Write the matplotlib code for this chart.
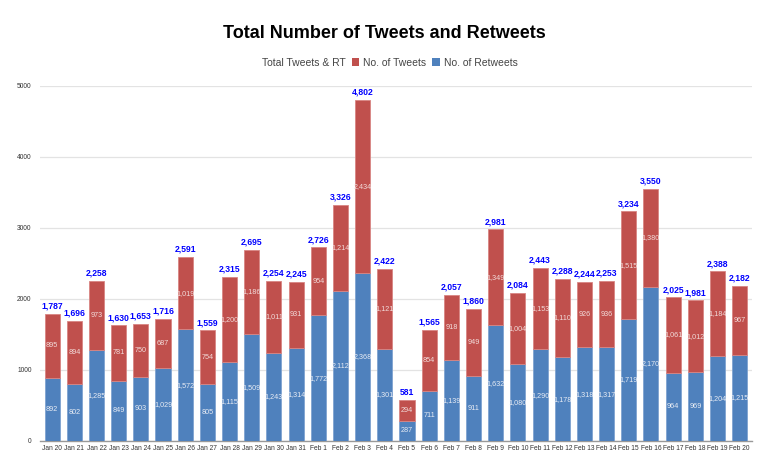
import numpy as np
import matplotlib.pyplot as plt
from matplotlib.patches import Patch

plt.rcParams['font.family'] = ['Liberation Sans', 'DejaVu Sans']

# data
dates = ['Jan 20', 'Jan 21', 'Jan 22', 'Jan 23', 'Jan 24', 'Jan 25', 'Jan 26', 'Jan 27',
         'Jan 28', 'Jan 29', 'Jan 30', 'Jan 31', 'Feb 1', 'Feb 2', 'Feb 3', 'Feb 4',
         'Feb 5', 'Feb 6', 'Feb 7', 'Feb 8', 'Feb 9', 'Feb 10', 'Feb 11', 'Feb 12',
         'Feb 13', 'Feb 14', 'Feb 15', 'Feb 16', 'Feb 17', 'Feb 18', 'Feb 19', 'Feb 20']
retweets = [892, 802, 1285, 849, 903, 1029, 1572, 805, 1115, 1509, 1243, 1314, 1772, 2112,
            2368, 1301, 287, 711, 1139, 911, 1632, 1080, 1290, 1178, 1318, 1317, 1719,
            2170, 964, 969, 1204, 1215]
tweets = [895, 894, 973, 781, 750, 687, 1019, 754, 1200, 1186, 1011, 931, 954, 1214,
          2434, 1121, 294, 854, 918, 949, 1349, 1004, 1153, 1110, 926, 936, 1515, 1380,
          1061, 1012, 1184, 967]
totals = [1787, 1696, 2258, 1630, 1653, 1716, 2591, 1559, 2315, 2695, 2254, 2245, 2726,
          3326, 4802, 2422, 581, 1565, 2057, 1860, 2981, 2084, 2443, 2288, 2244, 2253,
          3234, 3550, 2025, 1981, 2388, 2182]

blue = '#4F81BD'
red = '#C0504D'

fig = plt.figure(figsize=(7.68, 4.75), dpi=100)
ax = fig.add_axes([0.052, 0.0716, 0.927, 0.7474])

x = np.arange(len(dates))
w = 0.68
ax.bar(x, retweets, w, color=blue, edgecolor='#7FA3D0', linewidth=0.6, zorder=3)
ax.bar(x, tweets, w, bottom=retweets, color=red, edgecolor='#D98583', linewidth=0.6, zorder=3)

for i in range(len(dates)):
    ax.text(x[i], retweets[i] / 2, f'{retweets[i]:,}', ha='center', va='center',
            fontsize=5.2, color='#E8ECF4', zorder=4)
    ax.text(x[i], retweets[i] + tweets[i] / 2, f'{tweets[i]:,}', ha='center', va='center',
            fontsize=5.2, color='#F2DCDB', zorder=4)
    ax.text(x[i], totals[i] + 45, f'{totals[i]:,}', ha='center', va='bottom',
            fontsize=6.2, color='#0000FF', fontweight='bold', zorder=4)

ax.set_xlim(-0.55, len(dates) - 0.45)
ax.set_ylim(0, 5000)
ax.set_yticks(range(0, 5001, 1000))
ax.set_xticks(x)
ax.set_xticklabels(dates, fontsize=4.8, color='#333333')
ax.tick_params(axis='y', labelsize=4.8, length=0, colors='#333333', pad=6)
ax.tick_params(axis='x', length=0, pad=3)
ax.yaxis.grid(True, color='#E3E3E3', linewidth=0.9, zorder=0)
for s in ['top', 'right', 'left']:
    ax.spines[s].set_visible(False)
ax.spines['bottom'].set_color('#999999')
ax.spines['bottom'].set_linewidth(1.0)

fig.text(0.5, 0.93, 'Total Number of Tweets and Retweets', ha='center', va='center',
         fontsize=13, fontweight='bold', color='black')

handles = [Patch(facecolor='none', edgecolor='none'),
           Patch(facecolor=red), Patch(facecolor=blue)]
labels = ['Total Tweets & RT', 'No. of Tweets', 'No. of Retweets']
fig.legend(handles, labels, loc='center', bbox_to_anchor=(0.5, 0.868), ncol=3,
           frameon=False, fontsize=7.5, handlelength=0.7, handleheight=0.7,
           handletextpad=0.4, columnspacing=0.6, labelcolor='#444444')

fig.savefig('out.png', dpi=100)
